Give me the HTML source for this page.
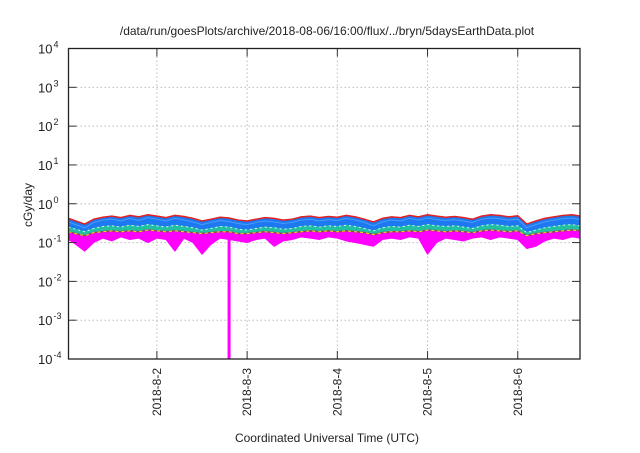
<!DOCTYPE html>
<html><head><meta charset="utf-8"><style>
body{margin:0;background:#fff}
svg text{font-family:"Liberation Sans",sans-serif;fill:#222}
</style></head><body>
<svg id="chart" width="640" height="448" xmlns="http://www.w3.org/2000/svg">
<rect width="640" height="448" fill="#fff"/>
<text x="327" y="35" font-size="12" text-anchor="middle">/data/run/goesPlots/archive/2018-08-06/16:00/flux/../bryn/5daysEarthData.plot</text>
<text x="0" y="0" font-size="12" text-anchor="middle" transform="translate(32,205) rotate(-90)">cGy/day</text>
<text x="327" y="442" font-size="12" text-anchor="middle">Coordinated Universal Time (UTC)</text>
<g id="grid"></g><g id="series"></g><g id="axes"></g>
</svg>
<script>
const xTickDays=[2,3,4,5,6];
const xTickLabels=["2018-8-2","2018-8-3","2018-8-4","2018-8-5","2018-8-6"];
const yTickExps=[-4,-3,-2,-1,0,1,2,3,4];
const startDay=1.0, stepDay=0.1;
const redVals=[0.42,0.36,0.30,0.40,0.45,0.48,0.44,0.50,0.46,0.52,0.48,0.44,0.50,0.47,0.42,0.36,0.40,0.45,0.43,0.38,0.36,0.40,0.44,0.42,0.38,0.40,0.46,0.48,0.44,0.47,0.45,0.50,0.46,0.40,0.34,0.42,0.46,0.44,0.50,0.46,0.52,0.48,0.45,0.47,0.44,0.40,0.48,0.52,0.50,0.46,0.49,0.30,0.36,0.42,0.46,0.50,0.52,0.48];
const blueVals=[0.34,0.29,0.24,0.33,0.38,0.40,0.36,0.42,0.37,0.44,0.40,0.36,0.42,0.38,0.34,0.29,0.33,0.37,0.35,0.31,0.29,0.33,0.36,0.34,0.31,0.33,0.38,0.40,0.36,0.39,0.37,0.42,0.38,0.33,0.27,0.34,0.38,0.36,0.42,0.38,0.43,0.39,0.37,0.39,0.36,0.33,0.40,0.43,0.41,0.38,0.40,0.24,0.29,0.34,0.38,0.41,0.43,0.39];
const tealVals=[0.25,0.22,0.19,0.23,0.26,0.27,0.25,0.28,0.26,0.29,0.27,0.25,0.28,0.26,0.24,0.21,0.23,0.26,0.25,0.22,0.21,0.23,0.25,0.24,0.22,0.23,0.26,0.27,0.25,0.27,0.26,0.28,0.26,0.23,0.20,0.24,0.26,0.25,0.28,0.26,0.29,0.27,0.26,0.27,0.25,0.23,0.27,0.29,0.28,0.26,0.27,0.18,0.21,0.24,0.26,0.28,0.29,0.27];
const brownVals=[0.19,0.17,0.15,0.18,0.19,0.20,0.19,0.20,0.19,0.21,0.20,0.19,0.20,0.19,0.18,0.17,0.18,0.19,0.19,0.17,0.17,0.18,0.19,0.18,0.17,0.18,0.19,0.20,0.19,0.20,0.19,0.20,0.19,0.18,0.16,0.18,0.19,0.19,0.20,0.19,0.21,0.20,0.19,0.20,0.19,0.18,0.20,0.21,0.20,0.19,0.20,0.15,0.17,0.18,0.19,0.20,0.21,0.20];
const magentaVals=[0.12,0.09,0.06,0.10,0.13,0.11,0.14,0.12,0.13,0.10,0.13,0.12,0.06,0.13,0.10,0.05,0.09,0.13,0.12,0.11,0.10,0.12,0.13,0.08,0.11,0.12,0.14,0.13,0.12,0.14,0.13,0.11,0.10,0.09,0.08,0.12,0.13,0.12,0.14,0.13,0.05,0.10,0.13,0.12,0.11,0.13,0.14,0.12,0.14,0.13,0.12,0.07,0.08,0.11,0.13,0.12,0.14,0.13];
const spikeDays=[2.8];
const spikeVals=[0.0001];

const L=68.5,R=580,T=48.5,B=359;
const dayMin=1.02,dayMax=6.69;
const X=d=>L+(d-dayMin)/(dayMax-dayMin)*(R-L);
const Y=v=>B-(Math.log10(v)+4)/8*(B-T);
const NS="http://www.w3.org/2000/svg";
function mk(tag,attrs,parent){const e=document.createElementNS(NS,tag);for(const k in attrs)e.setAttribute(k,attrs[k]);parent.appendChild(e);return e;}
const grid=document.getElementById('grid'),ser=document.getElementById('series'),ax=document.getElementById('axes');
yTickExps.forEach(e=>{const y=Y(Math.pow(10,e));
 if(e>-4&&e<4){const g=mk('line',{x1:L,x2:R,y1:y,y2:y,stroke:'#bbb','stroke-dasharray':'1.5,2.5','stroke-width':1},grid);
 
 }
 const t1=mk('line',{x1:L,x2:L+8,y1:y,y2:y,stroke:'#333'},ax);
 
 
 const t2=mk('line',{x1:R,x2:R-8,y1:y,y2:y,stroke:'#333'},ax);
 
 
 const tx=mk('text',{x:L-16,y:y+5,'font-size':13,'text-anchor':'end'},ax);
 tx.textContent='10';
 
 
 const sp=mk('text',{x:L-15,y:y-1,'font-size':9,'text-anchor':'start'},ax);
 sp.textContent=String(e);
 
 
});
xTickDays.forEach((d,i)=>{const x=X(d);
 const g=mk('line',{x1:x,x2:x,y1:T,y2:B,stroke:'#bbb','stroke-dasharray':'1.5,2.5'},grid);
 
 
 const t1=mk('line',{x1:x,x2:x,y1:B,y2:B-8,stroke:'#333'},ax);
 
 
 const t2=mk('line',{x1:x,x2:x,y1:T,y2:T+8,stroke:'#333'},ax);
 
 
 const tx=mk('text',{x:0,y:0,'font-size':12,'text-anchor':'end',transform:`translate(${x+4},${B+9}) rotate(-90)`},ax);
 tx.textContent=xTickLabels[i];
 
 
});
const frame=mk('rect',{x:L,y:T,width:R-L,height:B-T,fill:'none',stroke:'#222','stroke-width':1.3},ax);


const pts=a=>a.map((v,i)=>[X(startDay+i*stepDay),Y(v)]);
const clampX=p=>[Math.max(L,Math.min(R,p[0])),p[1]];
function band(top,bot,color,name){
 const p=pts(top).map(clampX).concat(pts(bot).map(clampX).reverse());
 const e=mk('polygon',{points:p.map(q=>q.join(',')).join(' '),fill:color,stroke:color,'stroke-width':1,'stroke-linejoin':'bevel'},ser);
 
 
}
function line(vals,color,w,name,dash){
 const a={points:pts(vals).map(clampX).map(q=>q.join(',')).join(' '),fill:'none',stroke:color,'stroke-width':w};
 if(dash)a['stroke-dasharray']=dash;
 const e=mk('polyline',a,ser);
 
 
}
band(redVals,tealVals,'#1e78f0','series-blue');
band(tealVals,brownVals,'#20c0a0','series-teal');
band(brownVals,magentaVals,'#ff00ff','series-magenta');
line(redVals,'#e52020',1.5,'series-red');
line(blueVals,'#4a9cff',1,'series-lightblue');
line(brownVals,'#a04060',1.5,'series-brown');
line(brownVals,'#e8e020',1,'series-yellow','3,3');
line(tealVals,'#e0f0ff',1,'series-white','2,3');
spikeDays.forEach((d,i)=>{const x=X(d);
 const e=mk('rect',{x:x-1.5,y:Y(0.13),width:3,height:Y(spikeVals[i])-Y(0.13),fill:'#ff00ff'},ser);
 
 
});
</script>
</body></html>
